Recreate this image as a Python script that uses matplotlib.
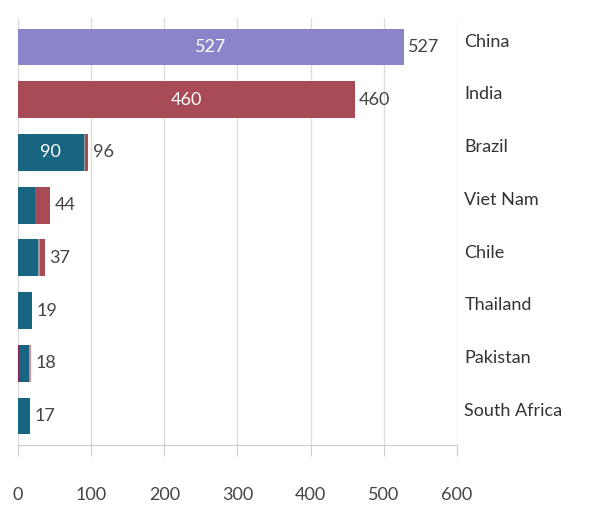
import numpy as np
import matplotlib.pyplot as plt

plt.rcParams['font.family'] = ['Lato', 'DejaVu Sans']

countries = ['China', 'India', 'Brazil', 'Viet Nam', 'Chile', 'Thailand', 'Pakistan', 'South Africa']
totals = [527, 460, 96, 44, 37, 19, 18, 17]
# stacked segments (left to right)
seg_purple = [527, 0, 0, 0, 0, 0, 0, 0]
seg_magenta = [0, 0, 0, 0, 0, 0, 2, 0]
seg_teal = [0, 0, 90, 23, 28, 19, 13, 16]
seg_gray = [0, 0, 1, 0, 2, 0, 1, 1]
seg_red = [0, 460, 5, 21, 7, 0, 0, 0]
seg_pink = [0, 0, 0, 0, 0, 0, 2, 0]
inner_labels = {0: '527', 1: '460', 2: '90'}

segments = [(seg_purple, '#8985C8'), (seg_magenta, '#8B1A4F'), (seg_teal, '#176580'),
            (seg_gray, '#8FA3A0'), (seg_red, '#A94B56'), (seg_pink, '#E08C9A')]

fig = plt.figure(figsize=(5.98, 5.14), dpi=100)
ax = fig.add_axes([18/598, 1 - 445/514, 439/598, 427/514])
y = np.arange(len(countries))
left = np.zeros(len(countries))
for vals, col in segments:
    v = np.array(vals, dtype=float)
    ax.barh(y, v, left=left, height=0.7, color=col, zorder=3)
    left += v

for i, t in enumerate(totals):
    ax.text(t + 6, i, str(t), va='center', ha='left', fontsize=13, color='#444444')
    if i in inner_labels:
        ax.text(t * 0.5 if i < 2 else 45, i, inner_labels[i], va='center', ha='center',
                fontsize=13, color='white', zorder=4)
    ax.text(610, i - 0.1, countries[i], va='center', ha='left', fontsize=13,
            color='#333333', clip_on=False)

ax.set_xlim(0, 600)
ax.set_ylim(len(countries) - 0.5 + 0.05, -0.5 - 0.05)
ax.set_xticks(range(0, 601, 100))
ax.grid(axis='x', color='#dddddd', lw=1, zorder=0)
ax.set_yticks([])
for s in ['top', 'right', 'left']:
    ax.spines[s].set_visible(False)
ax.spines['bottom'].set_color('#cccccc')
ax.tick_params(axis='x', length=8, color='#cccccc', labelsize=13, labelcolor='#444444', pad=22)

fig.savefig('out.png', dpi=100, facecolor='white')
